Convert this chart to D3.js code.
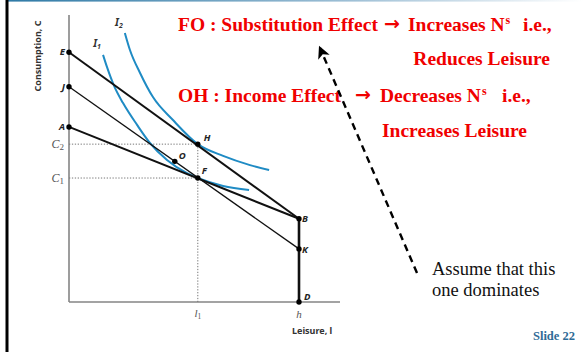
<!DOCTYPE html>
<html><head><meta charset="utf-8">
<script src="https://cdn.jsdelivr.net/npm/d3@7"></script>
<style>html,body{margin:0;padding:0;background:#fff;}svg{display:block;}</style>
</head><body>
<svg id="c" width="583" height="352"></svg>
<script>
// ---- data (leisure units 0..100, consumption units 0..100) ----
const pointNames = ["E","J","A","H","F","O","B","K","D"];
const pointX = [0, 0, 0, 56, 56, 46, 100, 100, 100];
const pointY = [87, 75, 61, 55, 43.2, 49, 29, 18.5, 0];
const budgetLines = [["E","B",2],["J","K",1.3],["A","B",2],["B","D",2.6]];
const i1X = [14.8, 16.5, 19.6, 23.5, 29.6, 35.2, 42.6, 51.3, 56, 67, 78.3];
const i1Y = [86.1, 81.9, 75.3, 69.3, 61.7, 55.4, 49.5, 44.9, 43.2, 40.4, 39];
const i2X = [24.3, 26.5, 30.9, 36.5, 45.2, 56, 67, 78.7, 87];
const i2Y = [93.7, 87.8, 79.8, 71.4, 63.4, 55, 50.9, 47.7, 46];
const hEndow = 100, l1 = 56, c1 = 43.2, c2 = 55;
// annotation segments
const line1 = ["FO : Substitution Effect", "\u2192", "Increases N", "s", "i.e.,"];
const line2 = ["Reduces Leisure"];
const line3 = ["OH : Income Effect", "\u2192", "Decreases N", "s", "i.e.,"];
const line4 = ["Increases Leisure"];

const svg = d3.select("#c");
const x = d3.scaleLinear().domain([0, 100]).range([69, 299]);
const y = d3.scaleLinear().domain([0, 100]).range([302, 15]);
const P = {};
pointNames.forEach((n,i)=>P[n]={x:pointX[i],y:pointY[i]});

// frame
const defs = svg.append("defs");
const g1 = defs.append("linearGradient").attr("id","topg").attr("x1","0").attr("x2","1");
g1.append("stop").attr("offset","0").attr("stop-color","#2f7aa6");
g1.append("stop").attr("offset","0.6").attr("stop-color","#9fc0d6");
g1.append("stop").attr("offset","1").attr("stop-color","#ffffff");
svg.append("rect").attr("x",8).attr("y",0).attr("width",575).attr("height",1.6).attr("fill","url(#topg)");
svg.append("rect").attr("x",5.5).attr("y",0).attr("width",3).attr("height",352).attr("fill","#000");

defs.append("clipPath").attr("id","clipc").append("rect").attr("x",0).attr("y",0).attr("width",340).attr("height",352);
const chart = svg.append("g").attr("clip-path","url(#clipc)");

// axes
chart.append("line").attr("x1",x(0)).attr("x2",x(0)).attr("y1",y(100)).attr("y2",y(0)).attr("stroke","#858585").attr("stroke-width",1.6);
chart.append("line").attr("x1",x(0)).attr("x2",345).attr("y1",y(0)).attr("y2",y(0)).attr("stroke","#858585").attr("stroke-width",1.6);

// dotted guides
function guide(a,b,c,d){chart.append("line").attr("x1",a).attr("y1",b).attr("x2",c).attr("y2",d)
  .attr("stroke","#777").attr("stroke-width",1).attr("stroke-dasharray","1.3,1.6");}
guide(x(0), y(c2), x(l1), y(c2));
guide(x(0), y(c1), x(l1), y(c1));
guide(x(l1), y(c2), x(l1), y(0));

// indifference curves
const line = d3.line().x(d=>x(d[0])).y(d=>y(d[1])).curve(d3.curveMonotoneX);
chart.append("path").attr("d",line(i1X.map((v,i)=>[v,i1Y[i]]))).attr("fill","none").attr("stroke","#1f8bc4").attr("stroke-width",2);
chart.append("path").attr("d",line(i2X.map((v,i)=>[v,i2Y[i]]))).attr("fill","none").attr("stroke","#1f8bc4").attr("stroke-width",2);

// budget lines
budgetLines.forEach(([a,b,w])=>{
  chart.append("line").attr("x1",x(P[a].x)).attr("y1",y(P[a].y)).attr("x2",x(P[b].x)).attr("y2",y(P[b].y))
    .attr("stroke","#111").attr("stroke-width",w);
});

// points
pointNames.forEach(n=>{
  chart.append("circle").attr("cx",x(P[n].x)).attr("cy",y(P[n].y)).attr("r",2.7).attr("fill","#000");
});

// point labels
const lab = {E:[-4,3,"end"],J:[-4,3,"end"],A:[-4,3,"end"],H:[6,-3,"start"],F:[4,-4,"start"],O:[4,-2,"start"],B:[3,3,"start"],K:[3,4,"start"],D:[5,-2,"start"]};
pointNames.forEach(n=>{
  const o=lab[n];
  chart.append("text").attr("x",x(P[n].x)+o[0]).attr("y",y(P[n].y)+o[1]).attr("text-anchor",o[2])
    .attr("font-family","'Noto Sans',sans-serif").attr("font-weight","bold").attr("font-style","italic")
    .attr("font-size",9.5).attr("fill","#222").text(n);
});

// C labels
[["C","2",c2],["C","1",c1]].forEach(([t,s,v])=>{
  const tx=chart.append("text").attr("x",x(0)-5).attr("y",y(v)+4).attr("text-anchor","end")
    .attr("font-family","'Liberation Serif',serif").attr("font-style","italic").attr("font-size",12).attr("fill","#555");
  tx.append("tspan").text(t);
  tx.append("tspan").attr("font-size",9).attr("dy",2).attr("font-style","normal").text(s);
});

// x tick labels
const lt = chart.append("text").attr("x",x(l1)).attr("y",317).attr("text-anchor","middle")
  .attr("font-family","'Liberation Serif',serif").attr("font-style","italic").attr("font-size",11).attr("fill","#555");
lt.append("tspan").text("l");
lt.append("tspan").attr("font-size",7.5).attr("dy",1.5).attr("font-style","normal").text("1");
chart.append("text").attr("x",x(hEndow)).attr("y",318).attr("text-anchor","middle")
  .attr("font-family","'Liberation Serif',serif").attr("font-style","italic").attr("font-size",11).attr("fill","#555").text("h");

// curve labels
[["I","1",i1X[0],i1Y[0],-6,-8],["I","2",i2X[0],i2Y[0],-6,-7]].forEach(([t,s,vx,vy,dx,dy])=>{
  const tx=chart.append("text").attr("x",x(vx)+dx).attr("y",y(vy)+dy).attr("text-anchor","middle")
    .attr("font-family","'Noto Sans',sans-serif").attr("font-style","italic").attr("font-weight","bold").attr("font-size",10).attr("fill","#333");
  tx.append("tspan").text(t);
  tx.append("tspan").attr("font-size",7).attr("dy",2).text(s);
});

// axis titles
chart.append("text").attr("transform","translate(41,56) rotate(-90)").attr("text-anchor","middle")
  .attr("font-family","'Noto Sans',sans-serif").attr("font-weight","bold").attr("font-size",9).attr("fill","#333")
  .text("Consumption, C");
chart.append("text").attr("x",292).attr("y",334)
  .attr("font-family","'Noto Sans',sans-serif").attr("font-weight","bold").attr("font-size",9).attr("fill","#333")
  .text("Leisure, l");

// red annotation text
const RED = "#f00000";
const SERIF = "'Liberation Serif',serif";
function redText(segs, xs, yy){
  svg.append("text").attr("x",xs[0]).attr("y",yy).attr("fill",RED).attr("font-family",SERIF)
    .attr("font-weight","bold").attr("font-size",19.5).text(segs[0]);
  svg.append("text").attr("x",xs[1]).attr("y",yy-1).attr("fill",RED).attr("font-family","'DejaVu Sans',sans-serif")
    .attr("font-weight","bold").attr("font-size",19).text(segs[1]);
  const t = svg.append("text").attr("x",xs[2]).attr("y",yy).attr("fill",RED).attr("font-family",SERIF)
    .attr("font-weight","bold").attr("font-size",19.5);
  t.append("tspan").text(segs[2]);
  t.append("tspan").attr("font-size",12).attr("dx",1).attr("dy",-7).text(segs[3]);
  svg.append("text").attr("x",xs[3]).attr("y",yy).attr("fill",RED).attr("font-family",SERIF)
    .attr("font-weight","bold").attr("font-size",19.5).text(segs[4]);
}
redText(line1, [178, 384, 408, 523], 31);
redText(line3, [178, 355, 380, 502], 102);
svg.append("text").attr("x",550).attr("y",65).attr("text-anchor","end").attr("fill",RED)
  .attr("font-family",SERIF).attr("font-weight","bold").attr("font-size",19.5).text(line2[0]);
svg.append("text").attr("x",527).attr("y",137).attr("text-anchor","end").attr("fill",RED)
  .attr("font-family",SERIF).attr("font-weight","bold").attr("font-size",19.5).text(line4[0]);

// dashed arrow
defs.append("marker").attr("id","ah").attr("viewBox","0 0 10 10").attr("refX",8).attr("refY",5)
  .attr("markerWidth",5.2).attr("markerHeight",5.2).attr("orient","auto").attr("markerUnits","strokeWidth")
  .append("path").attr("d","M0,0 L10,5 L0,10 L2.5,5 z").attr("fill","#000");
svg.append("line").attr("x1",417).attr("y1",273).attr("x2",320).attr("y2",48)
  .attr("stroke","#000").attr("stroke-width",2.4).attr("stroke-dasharray","7,5").attr("marker-end","url(#ah)");

// note
[["Assume that this",275],["one dominates",296]].forEach(([s,yy])=>{
  svg.append("text").attr("x",432).attr("y",yy).attr("font-family",SERIF).attr("font-size",18.5).attr("fill","#111").text(s);
});
svg.append("text").attr("x",575).attr("y",340).attr("text-anchor","end").attr("font-family",SERIF)
  .attr("font-weight","bold").attr("font-size",12.5).attr("fill","#2f6b96").text("Slide 22");
</script>
</body></html>
